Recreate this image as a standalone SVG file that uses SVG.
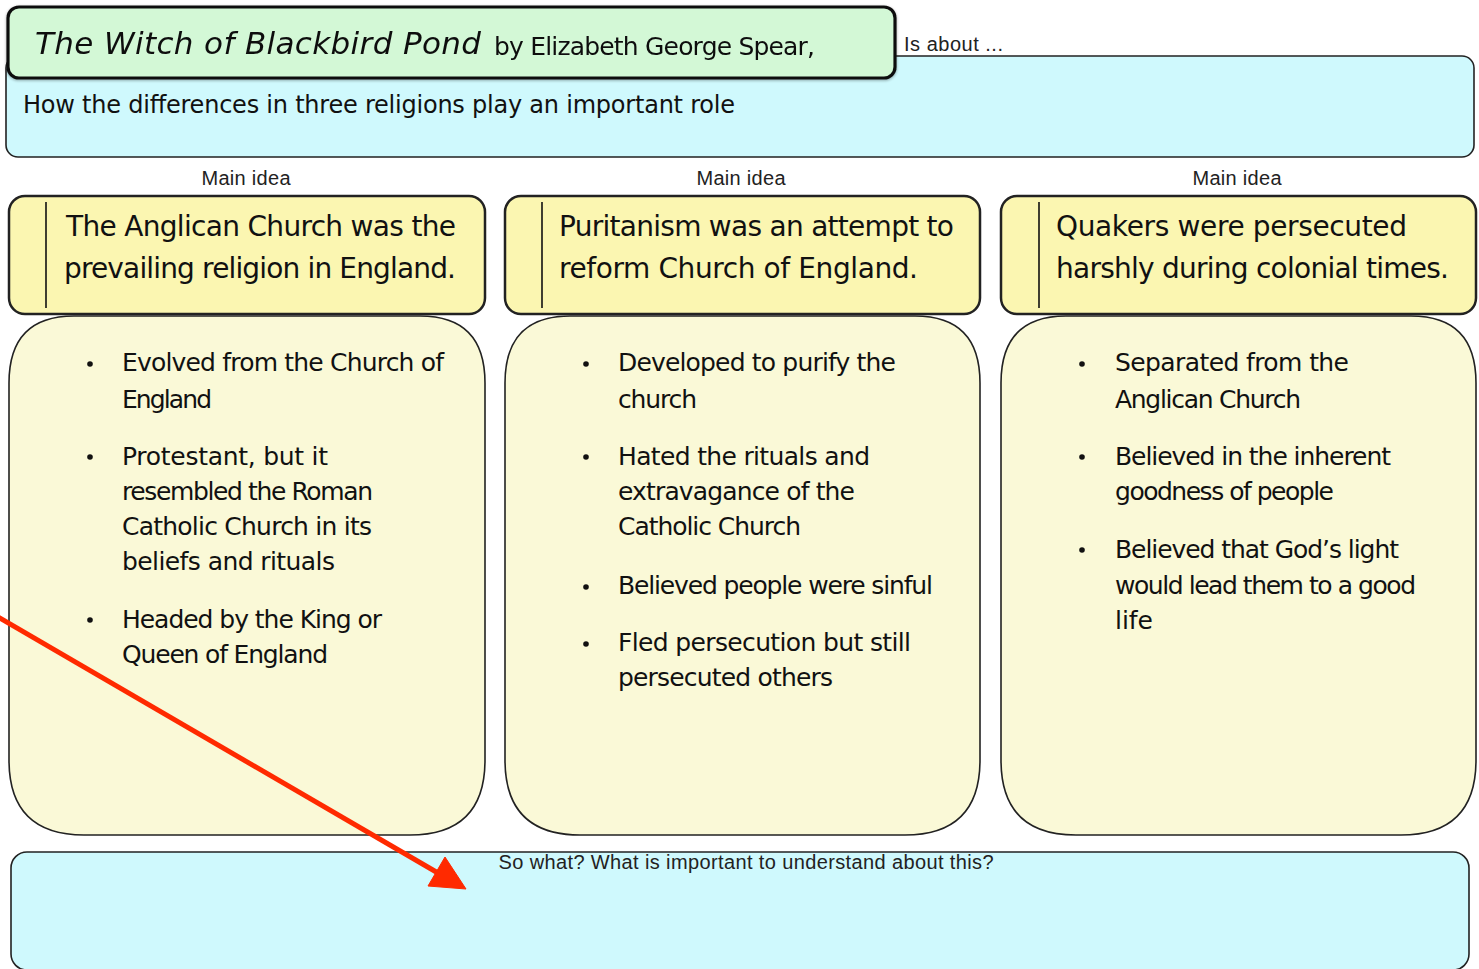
<svg xmlns="http://www.w3.org/2000/svg" width="1479" height="969" viewBox="0 0 1479 969">
  <defs>
    <style>
      .hand { font-family: "DejaVu Sans", "Noto Sans", sans-serif; fill: #111; }
      .label { font-family: "Liberation Sans", Arial, sans-serif; font-size: 20px; fill: #222; }
      .head { font-size: 28px; }
      .body { font-size: 25px; }
      .cyan { fill: #cff9fd; stroke: #222; stroke-width: 1.6; }
      .mainbox { fill: #fbf6b1; stroke: #222; stroke-width: 2.5; }
      .detail { fill: #faf9d7; stroke: #222; stroke-width: 1.6; }
      .rule { stroke: #111; stroke-width: 1.6; }
      .dot { fill: #111; }
      .red { stroke: #ff2a00; fill: #ff2a00; }
    </style>
    <filter id="soft" x="-5%" y="-20%" width="110%" height="140%">
      <feGaussianBlur in="SourceAlpha" stdDeviation="1.5"/>
      <feOffset dx="0" dy="1"/>
      <feComponentTransfer><feFuncA type="linear" slope="0.35"/></feComponentTransfer>
      <feMerge><feMergeNode/><feMergeNode in="SourceGraphic"/></feMerge>
    </filter>
  </defs>

  <rect width="1479" height="969" fill="#ffffff"/>

  <!-- "Is about" summary box -->
  <g id="about">
    <rect class="cyan" x="6" y="56" width="1468" height="101" rx="12" ry="12"/>
    <text class="label" x="904" y="51" textLength="99">Is about ...</text>
    <text class="hand" x="23" y="113" font-size="24" textLength="712">How the differences in three religions play an important role</text>
  </g>

  <!-- book title -->
  <g id="title" filter="url(#soft)">
    <rect x="8" y="7" width="887" height="71" rx="11" ry="11" fill="#d3f8d6" stroke="#111" stroke-width="3.2"/>
    <text class="hand" x="35" y="54" font-size="31" font-style="italic" textLength="446">The Witch of Blackbird Pond</text>
    <text class="hand" x="494" y="55" font-size="25" textLength="321">by Elizabeth George Spear,</text>
  </g>

  <!-- main idea: Anglican -->
  <g id="idea-anglican">
    <text class="label" x="246" y="185" text-anchor="middle" textLength="89">Main idea</text>
    <rect class="mainbox" x="9" y="196" width="476" height="118" rx="16" ry="16"/>
    <line class="rule" x1="46" y1="202" x2="46" y2="308"/>
    <text class="hand head" x="66" y="236" textLength="390">The Anglican Church was the</text>
    <text class="hand head" x="64" y="278" textLength="392">prevailing religion in England.</text>
  </g>
  <g id="detail-anglican">
    <path class="detail" d="M74,316 H420 Q485,316 485,383 V760 Q485,835 410,835 H84 Q9,835 9,760 V383 Q9,316 74,316 Z"/>
    <circle class="dot" cx="90" cy="364" r="2.8"/>
    <text class="hand body" x="122" y="371" textLength="322">Evolved from the Church of</text>
    <text class="hand body" x="122" y="408" textLength="90">England</text>
    <circle class="dot" cx="90" cy="457" r="2.8"/>
    <text class="hand body" x="122" y="465" textLength="206">Protestant, but it</text>
    <text class="hand body" x="122" y="500" textLength="251">resembled the Roman</text>
    <text class="hand body" x="122" y="535" textLength="250">Catholic Church in its</text>
    <text class="hand body" x="122" y="570" textLength="213">beliefs and rituals</text>
    <circle class="dot" cx="90" cy="620" r="2.8"/>
    <text class="hand body" x="122" y="628" textLength="260">Headed by the King or</text>
    <text class="hand body" x="122" y="663" textLength="206">Queen of England</text>
  </g>

  <!-- main idea: Puritan -->
  <g id="idea-puritan">
    <text class="label" x="741" y="185" text-anchor="middle" textLength="89">Main idea</text>
    <rect class="mainbox" x="505" y="196" width="475" height="118" rx="16" ry="16"/>
    <line class="rule" x1="542" y1="202" x2="542" y2="308"/>
    <text class="hand head" x="559" y="236" textLength="395">Puritanism was an attempt to</text>
    <text class="hand head" x="559" y="278" textLength="359">reform Church of England.</text>
  </g>
  <g id="detail-puritan">
    <path class="detail" d="M570,316 H915 Q980,316 980,383 V760 Q980,835 905,835 H580 Q505,835 505,760 V383 Q505,316 570,316 Z"/>
    <circle class="dot" cx="586" cy="364" r="2.8"/>
    <text class="hand body" x="618" y="371" textLength="278">Developed to purify the</text>
    <text class="hand body" x="618" y="408" textLength="79">church</text>
    <circle class="dot" cx="586" cy="457" r="2.8"/>
    <text class="hand body" x="618" y="465" textLength="252">Hated the rituals and</text>
    <text class="hand body" x="618" y="500" textLength="237">extravagance of the</text>
    <text class="hand body" x="618" y="535" textLength="183">Catholic Church</text>
    <circle class="dot" cx="586" cy="587" r="2.8"/>
    <text class="hand body" x="618" y="594" textLength="315">Believed people were sinful</text>
    <circle class="dot" cx="586" cy="644" r="2.8"/>
    <text class="hand body" x="618" y="651" textLength="293">Fled persecution but still</text>
    <text class="hand body" x="618" y="686" textLength="215">persecuted others</text>
  </g>

  <!-- main idea: Quaker -->
  <g id="idea-quaker">
    <text class="label" x="1237" y="185" text-anchor="middle" textLength="89">Main idea</text>
    <rect class="mainbox" x="1001" y="196" width="475" height="118" rx="16" ry="16"/>
    <line class="rule" x1="1039" y1="202" x2="1039" y2="308"/>
    <text class="hand head" x="1056" y="236" textLength="351">Quakers were persecuted</text>
    <text class="hand head" x="1056" y="278" textLength="393">harshly during colonial times.</text>
  </g>
  <g id="detail-quaker">
    <path class="detail" d="M1066,316 H1411 Q1476,316 1476,383 V760 Q1476,835 1401,835 H1076 Q1001,835 1001,760 V383 Q1001,316 1066,316 Z"/>
    <circle class="dot" cx="1082" cy="364" r="2.8"/>
    <text class="hand body" x="1115" y="371" textLength="234">Separated from the</text>
    <text class="hand body" x="1115" y="408" textLength="186">Anglican Church</text>
    <circle class="dot" cx="1082" cy="457" r="2.8"/>
    <text class="hand body" x="1115" y="465" textLength="276">Believed in the inherent</text>
    <text class="hand body" x="1115" y="500" textLength="219">goodness of people</text>
    <circle class="dot" cx="1082" cy="550" r="2.8"/>
    <text class="hand body" x="1115" y="558" textLength="284">Believed that God’s light</text>
    <text class="hand body" x="1115" y="594" textLength="301">would lead them to a good</text>
    <text class="hand body" x="1115" y="629" textLength="38">life</text>
  </g>

  <!-- "So what?" conclusion box -->
  <g id="sowhat">
    <rect class="cyan" x="11" y="852" width="1458" height="118" rx="16" ry="16"/>
    <text class="label" x="746" y="869" text-anchor="middle" textLength="495">So what? What is important to understand about this?</text>
  </g>

  <!-- connectors: red pointer into the conclusion box -->
  <g id="connectors">
    <line class="red" x1="-2" y1="617" x2="438" y2="873" stroke-width="5"/>
    <polygon class="red" stroke-width="1" stroke-linejoin="miter" points="466,889 428,886 445,857"/>
  </g>
</svg>
